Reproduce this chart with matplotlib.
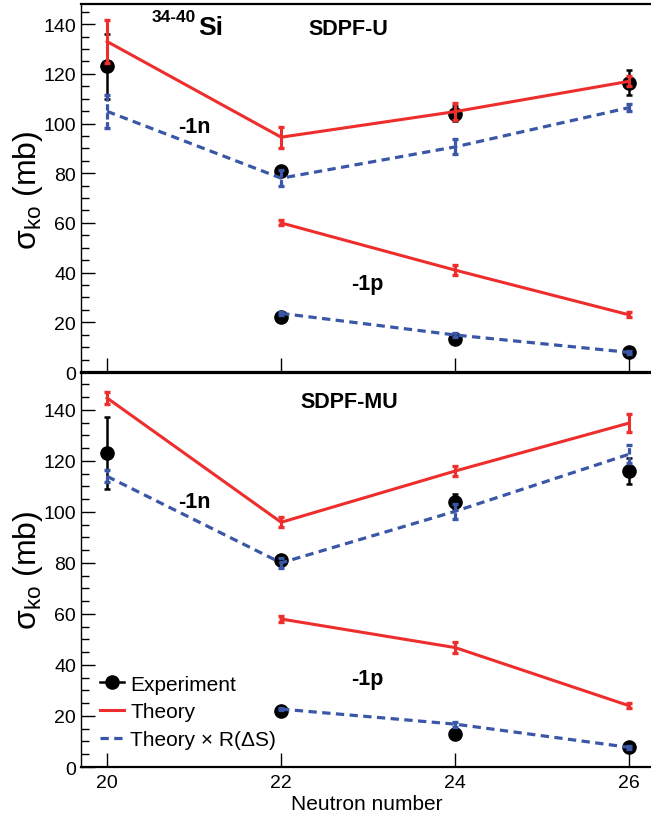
import matplotlib
matplotlib.use("Agg")
import matplotlib.pyplot as plt
from matplotlib.lines import Line2D
from matplotlib.ticker import MultipleLocator

plt.rcParams['font.family'] = ['Liberation Sans', 'DejaVu Sans']
plt.rcParams['mathtext.fontset'] = 'custom'
plt.rcParams['mathtext.rm'] = 'Liberation Sans'
plt.rcParams['mathtext.it'] = 'Liberation Sans:italic'

# neutron numbers
n_all = [20, 22, 24, 26]
n_p = [22, 24, 26]

# SDPF-U panel
exp_1n_u = [123, 81, 104, 116.5]
exp_1n_u_err = [13, 2, 3, 5]
exp_1p_u = [22.3, 13.3, 8.2]
exp_1p_u_err = [1, 1, 1]
th_1n_u = [133, 94.5, 104.8, 117]
th_1n_u_err = [8.5, 4.3, 3.5, 2]
thr_1n_u = [104.9, 78, 90.6, 106.4]
thr_1n_u_err = [6.6, 3.3, 3, 1.5]
th_1p_u = [60, 41, 23]
th_1p_u_err = [1, 2, 1]
thr_1p_u = [23.6, 14.9, 7.9]
thr_1p_u_err = [0.5, 1, 0.5]

# SDPF-MU panel
exp_1n_mu = [123, 81, 104, 116]
exp_1n_mu_err = [14, 2, 3, 5]
exp_1p_mu = [22, 13, 7.7]
exp_1p_mu_err = [1, 1, 1]
th_1n_mu = [144.6, 95.9, 116, 134.8]
th_1n_mu_err = [2.2, 2, 2, 3.4]
thr_1n_mu = [113.9, 80, 100.2, 122.6]
thr_1n_mu_err = [2.3, 2, 3, 3.4]
th_1p_mu = [58, 46.8, 24]
th_1p_mu_err = [1, 2, 1]
thr_1p_mu = [22.7, 16.8, 7.7]
thr_1p_mu_err = [0.5, 1, 0.5]

RED = '#ee2d2d'
BLUE = '#3a56a6'
DASH = (2.6, 1.7)

fig = plt.figure(figsize=(6.51, 8.2), dpi=100)
ax_top = fig.add_axes([0.1244, 0.5451, 0.8756, 0.4491])
ax_bot = fig.add_axes([0.1244, 0.0634, 0.8756, 0.4805])


def draw_panel(ax, e1n, e1n_err, e1p, e1p_err, t1n, t1n_err, r1n, r1n_err, t1p, t1p_err, r1p, r1p_err):
    for x, y, err in [(n_all, e1n, e1n_err), (n_p, e1p, e1p_err)]:
        ax.errorbar(x, y, yerr=err, fmt='o', color='black', ms=9.5,
                    elinewidth=1.8, capsize=2.5, capthick=1.8, zorder=2)
    for x, y, err in [(n_all, t1n, t1n_err), (n_p, t1p, t1p_err)]:
        ax.errorbar(x, y, yerr=err, fmt='-', color=RED, lw=2.2,
                    elinewidth=2.2, capsize=2.5, capthick=2.4, zorder=3)
    for x, y, err in [(n_all, r1n, r1n_err), (n_p, r1p, r1p_err)]:
        c = ax.errorbar(x, y, yerr=err, fmt='--', color=BLUE, lw=2.3,
                        elinewidth=2.3, capsize=2.5, capthick=2.4, zorder=4)
        c[0].set_dashes(DASH)
        for bar in c[2]:
            bar.set_linestyle((0, (2.0, 0.8)))

    ax.set_xlim(19.7, 26.25)
    ax.set_xticks(n_all)
    ax.yaxis.set_major_locator(MultipleLocator(20))
    ax.yaxis.set_minor_locator(MultipleLocator(5))
    ax.tick_params(axis='y', which='major', direction='in', length=10, width=1,
                   labelsize=14, pad=3.6)
    ax.tick_params(axis='y', which='minor', direction='in', length=6, width=1)
    ax.tick_params(axis='x', which='major', direction='in', length=10, width=1,
                   labelsize=14, pad=5)
    ax.spines['right'].set_visible(False)
    ax.spines['left'].set_linewidth(1.0)
    ax.spines['top'].set_linewidth(1.6)
    ax.spines['bottom'].set_linewidth(1.6)


draw_panel(ax_top, exp_1n_u, exp_1n_u_err, exp_1p_u, exp_1p_u_err,
           th_1n_u, th_1n_u_err, thr_1n_u, thr_1n_u_err,
           th_1p_u, th_1p_u_err, thr_1p_u, thr_1p_u_err)
draw_panel(ax_bot, exp_1n_mu, exp_1n_mu_err, exp_1p_mu, exp_1p_mu_err,
           th_1n_mu, th_1n_mu_err, thr_1n_mu, thr_1n_mu_err,
           th_1p_mu, th_1p_mu_err, thr_1p_mu, thr_1p_mu_err)

ax_top.set_ylim(0, 148.2)
ax_bot.set_ylim(0, 154.4)
ax_top.tick_params(axis='x', labelbottom=False)

# y titles
for yc in [190, 570]:
    fig.text(28 / 651, 1 - yc / 820, 'σ$_{\\rm ko}$ (mb)', rotation=90,
             ha='center', va='center', fontsize=23)
fig.text(367 / 651, 1 - 805 / 820, 'Neutron number', ha='center', va='center', fontsize=15)

# panel annotations
ax_top.text(20.51, 141.2, '34-40', fontsize=12.5, fontweight='bold', ha='left', va='baseline')
ax_top.text(21.05, 136, 'Si', fontsize=19, fontweight='bold', ha='left', va='baseline')
ax_top.text(22.77, 136, 'SDPF-U', fontsize=15.5, fontweight='bold', ha='center', va='baseline')
ax_top.text(21.0, 96.5, '-1n', fontsize=15.5, fontweight='bold', ha='center', va='baseline')
ax_top.text(22.99, 33.4, '-1p', fontsize=15.5, fontweight='bold', ha='center', va='baseline')
ax_bot.text(22.78, 141.2, 'SDPF-MU', fontsize=15.5, fontweight='bold', ha='center', va='baseline')
ax_bot.text(21.0, 101.7, '-1n', fontsize=15.5, fontweight='bold', ha='center', va='baseline')
ax_bot.text(22.99, 32.5, '-1p', fontsize=15.5, fontweight='bold', ha='center', va='baseline')

# legend
h_exp = Line2D([], [], color='black', lw=1.8, marker='o', ms=9.5)
h_th = Line2D([], [], color=RED, lw=2.2)
h_thr = Line2D([], [], color=BLUE, lw=2.3, dashes=DASH)
ax_bot.legend([h_exp, h_th, h_thr], ['Experiment', 'Theory', 'Theory × R(ΔS)'],
              loc='center left', bbox_to_anchor=(100 / 651, 107 / 820),
              bbox_transform=fig.transFigure, frameon=False, fontsize=15,
              handlelength=1.15, handletextpad=0.3, labelspacing=0.42,
              borderpad=0, borderaxespad=0)

fig.savefig('out.png', dpi=100)
